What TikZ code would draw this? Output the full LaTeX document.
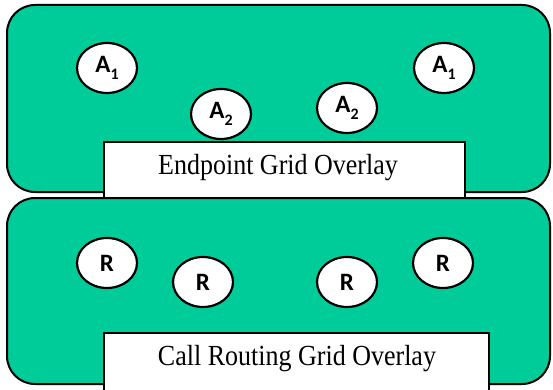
\documentclass[tikz,border=0pt]{standalone}
\usepackage{fontspec}
\setmainfont{Liberation Serif}
\newfontfamily\lblfont{Carlito}
\usetikzlibrary{shapes.geometric}
\definecolor{panelgreen}{RGB}{0,204,153}
\newcommand{\lblsub}[2]{{\lblfont\bfseries #1\raisebox{-0.3em}{\fontsize{16}{16}\selectfont #2}}}
\newcommand{\tallt}[1]{\scalebox{1}[1.12]{#1}}
\tikzset{
  panel/.style={draw=black, line width=2pt, fill=panelgreen, rounded corners=28pt,
    rectangle, inner sep=0pt, outer sep=0pt},
  titlebox/.style={draw=black, line width=1.6pt, fill=white, rectangle, inner sep=0pt,
    outer sep=0pt},
  titletext/.style={inner sep=0pt, font=\fontsize{26}{28}\selectfont},
  bubble/.style={draw=black, line width=2.2pt, fill=white, ellipse, inner sep=0pt,
    minimum width=60pt, minimum height=50pt, font=\fontsize{25}{26}\selectfont\lblfont\bfseries},
}
\begin{document}
\begin{tikzpicture}[x=1pt,y=-1pt]
\useasboundingbox (0,0) rectangle (553,390);
\clip (0,0) rectangle (553,390);
% panels
\node[panel, minimum width=543pt, minimum height=187pt] (toppanel) at (278.5,98.5) {};
\node[panel, minimum width=543pt, minimum height=186pt] (botpanel) at (278.5,291) {};
% title boxes
\node[titlebox, minimum width=361pt, minimum height=56pt] (toptitle) at (284.5,170) {};
\node[titletext] (toptext) at (278,168) {\tallt{Endpoint Grid Overlay}};
\node[titlebox, minimum width=385pt, minimum height=70pt] (bottitle) at (296.5,368) {};
\node[titletext] (bottext) at (297,359) {\tallt{Call Routing Grid Overlay}};
% endpoint bubbles
\node[bubble] (a1l) at (107,68) {\lblsub{A}{1}};
\node[bubble] (a1r) at (444,68) {\lblsub{A}{1}};
\node[bubble] (a2l) at (221,114) {\lblsub{A}{2}};
\node[bubble] (a2r) at (347,108) {\lblsub{A}{2}};
% routing bubbles
\node[bubble] (r1) at (107,263) {R};
\node[bubble] (r2) at (203,282) {R};
\node[bubble] (r3) at (347,282) {R};
\node[bubble] (r4) at (443,263) {R};
\end{tikzpicture}
\end{document}
